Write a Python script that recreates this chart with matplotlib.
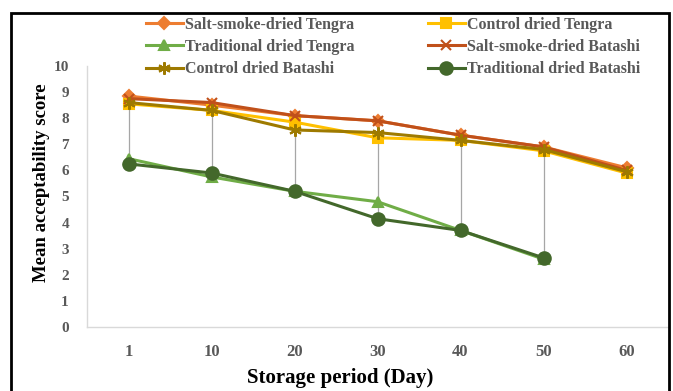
import matplotlib
matplotlib.use("Agg")
import matplotlib.pyplot as plt
from matplotlib.patches import Rectangle
import numpy as np

days = ["1", "10", "20", "30", "40", "50", "60"]
salt_smoke_tengra = [8.85, 8.5, 8.1, 7.9, 7.35, 6.9, 6.1]
control_tengra = [8.55, 8.3, 7.85, 7.25, 7.15, 6.75, 5.9]
traditional_tengra = [6.45, 5.75, 5.2, 4.8, 3.7, 2.6]
salt_smoke_batashi = [8.75, 8.6, 8.1, 7.9, 7.35, 6.9, 6.0]
control_batashi = [8.6, 8.3, 7.55, 7.45, 7.15, 6.8, 5.95]
traditional_batashi = [6.25, 5.9, 5.2, 4.15, 3.7, 2.65]

series = [
    ("Salt-smoke-dried Tengra", salt_smoke_tengra, "#ED7D31", "D", 6),
    ("Control dried Tengra", control_tengra, "#FFC000", "s", 7),
    ("Traditional dried Tengra", traditional_tengra, "#70AD47", "^", 7),
    ("Salt-smoke-dried Batashi", salt_smoke_batashi, "#C0501A", "x", 7),
    ("Control dried Batashi", control_batashi, "#9E7A00", (6, 2, 0), 9),
    ("Traditional dried Batashi", traditional_batashi, "#43682B", "o", 9),
]

plt.rcParams['font.family'] = ['Liberation Serif', 'DejaVu Serif']

fig = plt.figure(figsize=(6.73, 3.91), dpi=100)
W, H = 673, 391
ax = fig.add_axes([87 / W, (H - 327) / H, (668 - 87) / W, (327 - 66) / H])

x = np.arange(len(days))

# drop (high-low) lines
for i in range(len(days)):
    vals = [s[1][i] for s in series if i < len(s[1])]
    ax.plot([x[i], x[i]], [min(vals), max(vals)], color="#A6A6A6", lw=0.9, zorder=1)

handles = []
for name, vals, col, mk, ms in series:
    xx = x[:len(vals)]
    h, = ax.plot(xx, vals, color=col, lw=2.2, marker=mk, markersize=ms,
                 markeredgecolor=col, markerfacecolor=col, markeredgewidth=1.5,
                 label=name, zorder=3)
    handles.append(h)

ax.set_xlim(-0.5, 6.5)
ax.set_ylim(0, 10)
ax.set_yticks(range(0, 11))
ax.set_xticks(x)
ax.set_xticklabels(days)
for sp in ["top", "right"]:
    ax.spines[sp].set_visible(False)
for sp in ["left", "bottom"]:
    ax.spines[sp].set_color("#D9D9D9")
    ax.spines[sp].set_linewidth(1.0)
ax.tick_params(axis="y", length=0, labelcolor="#595959", labelsize=11, pad=13)
ax.tick_params(axis="x", length=0, labelcolor="#595959", labelsize=12, pad=12)
for lab in ax.get_xticklabels() + ax.get_yticklabels():
    lab.set_fontweight("bold")

fig.text(340 / W, 1 - 378 / H, "Storage period (Day)", fontsize=15, fontweight="bold",
         ha="center", va="center")
fig.text(42 / W, 1 - 183 / H, "Mean acceptability score", fontsize=13.5, fontweight="bold",
         ha="center", va="center", rotation=90)

# row-major legend order (matplotlib fills column-major)
order = [0, 2, 4, 1, 3, 5]
leg = fig.legend([handles[i] for i in order], [series[i][0] for i in order],
                 loc="upper left", bbox_to_anchor=(146 / W, 1 - 17 / H), ncol=2,
                 frameon=False, prop={"weight": "bold", "size": 11.5},
                 labelcolor="#595959", handlelength=2.3, handletextpad=0.15,
                 columnspacing=4.6, labelspacing=0.38, borderaxespad=0, borderpad=0)

fig.patches.append(Rectangle((11 / W, -0.05), (669 - 11) / W, 1.05 - 13 / H,
                             transform=fig.transFigure, fill=False,
                             edgecolor="black", lw=2, zorder=10))

fig.savefig("out.png", dpi=100)
